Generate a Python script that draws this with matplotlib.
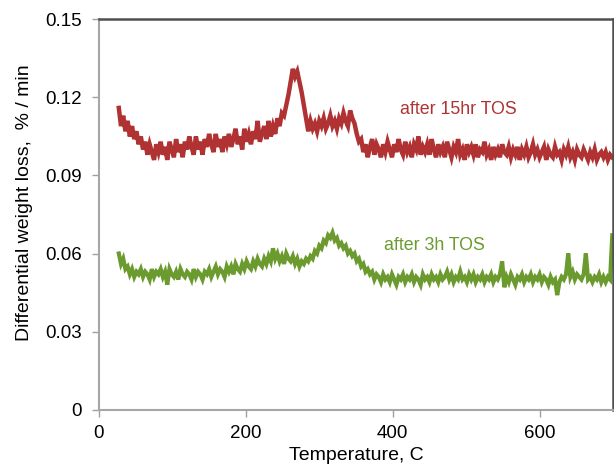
import matplotlib
matplotlib.use("Agg")
import matplotlib.pyplot as plt
import numpy as np

plt.rcParams['font.family'] = ['Liberation Sans', 'DejaVu Sans']

# temperature grid of the TGA trace, C (every 3 degrees from 27 to 699)
temp = np.arange(27, 700, 3)

# differential weight loss, % / min
after_15hr = [
    0.116, 0.109, 0.113, 0.107, 0.111, 0.105, 0.109, 0.104, 0.107, 0.102,
    0.105, 0.100, 0.103, 0.098, 0.102, 0.099, 0.096, 0.102, 0.099, 0.103,
    0.098, 0.101, 0.096, 0.103, 0.100, 0.097, 0.104, 0.099, 0.102, 0.097,
    0.103, 0.100, 0.105, 0.101, 0.098, 0.105, 0.100, 0.103, 0.098, 0.104,
    0.101, 0.106, 0.102, 0.099, 0.106, 0.101, 0.104, 0.099, 0.105, 0.102,
    0.106, 0.101, 0.104, 0.108, 0.102, 0.105, 0.100, 0.108, 0.103, 0.106,
    0.102, 0.107, 0.104, 0.111, 0.103, 0.106, 0.109, 0.104, 0.111, 0.105,
    0.109, 0.106, 0.112, 0.109, 0.114, 0.113, 0.117, 0.121, 0.126, 0.131,
    0.128, 0.130, 0.126, 0.122, 0.117, 0.112, 0.107, 0.111, 0.108, 0.110,
    0.107, 0.111, 0.109, 0.112, 0.108, 0.110, 0.113, 0.109, 0.111, 0.108,
    0.112, 0.110, 0.114, 0.111, 0.109, 0.115, 0.112, 0.110, 0.106, 0.103,
    0.104, 0.099, 0.102, 0.097, 0.101, 0.104, 0.098, 0.102, 0.100, 0.097,
    0.102, 0.099, 0.103, 0.100, 0.097, 0.102, 0.099, 0.104, 0.100, 0.098,
    0.103, 0.099, 0.101, 0.097, 0.102, 0.100, 0.105, 0.098, 0.101, 0.099,
    0.102, 0.098, 0.104, 0.100, 0.097, 0.102, 0.099, 0.101, 0.097, 0.103,
    0.100, 0.097, 0.101, 0.099, 0.104, 0.098, 0.100, 0.096, 0.102, 0.099,
    0.101, 0.098, 0.102, 0.097, 0.100, 0.099, 0.103, 0.098, 0.100, 0.096,
    0.101, 0.098, 0.100, 0.097, 0.102, 0.099, 0.098, 0.101, 0.097, 0.100,
    0.098, 0.101, 0.096, 0.100, 0.098, 0.101, 0.097, 0.099, 0.102, 0.098,
    0.100, 0.097, 0.099, 0.101, 0.096, 0.100, 0.098, 0.097, 0.101, 0.098,
    0.099, 0.096, 0.100, 0.098, 0.101, 0.097, 0.099, 0.096, 0.100, 0.098,
    0.097, 0.100, 0.098, 0.096, 0.099, 0.097, 0.100, 0.096, 0.098, 0.099,
    0.097, 0.099, 0.096, 0.098, 0.097,
]
after_3h = [
    0.060, 0.056, 0.058, 0.054, 0.055, 0.052, 0.054, 0.051, 0.053, 0.052,
    0.054, 0.051, 0.053, 0.052, 0.050, 0.054, 0.051, 0.053, 0.052, 0.054,
    0.051, 0.053, 0.048, 0.054, 0.052, 0.051, 0.053, 0.050, 0.054, 0.052,
    0.051, 0.053, 0.052, 0.050, 0.054, 0.051, 0.053, 0.052, 0.050, 0.053,
    0.052, 0.054, 0.051, 0.053, 0.055, 0.052, 0.054, 0.053, 0.051, 0.055,
    0.053, 0.055, 0.052, 0.056, 0.054, 0.053, 0.056, 0.054, 0.057, 0.055,
    0.054, 0.057, 0.055, 0.058, 0.056, 0.055, 0.058, 0.056, 0.059, 0.057,
    0.062, 0.058, 0.060, 0.057, 0.059, 0.056, 0.060, 0.058, 0.057, 0.059,
    0.056, 0.058, 0.055, 0.057, 0.056, 0.058, 0.057, 0.059, 0.058, 0.061,
    0.060, 0.063, 0.062, 0.065, 0.064, 0.067, 0.066, 0.068, 0.065, 0.066,
    0.063, 0.064, 0.062, 0.063, 0.060, 0.061, 0.059, 0.060, 0.057, 0.058,
    0.055, 0.056, 0.053, 0.054, 0.052, 0.053, 0.050, 0.052, 0.051, 0.049,
    0.052, 0.050, 0.051, 0.049, 0.052, 0.050, 0.048, 0.051, 0.050, 0.052,
    0.049, 0.051, 0.050, 0.052, 0.049, 0.051, 0.050, 0.048, 0.052, 0.050,
    0.051, 0.049, 0.052, 0.050, 0.051, 0.049, 0.052, 0.050, 0.051, 0.053,
    0.050, 0.052, 0.049, 0.051, 0.050, 0.053, 0.050, 0.051, 0.049, 0.052,
    0.050, 0.052, 0.049, 0.051, 0.050, 0.052, 0.049, 0.051, 0.050, 0.052,
    0.049, 0.051, 0.050, 0.052, 0.057, 0.047, 0.051, 0.049, 0.052, 0.050,
    0.048, 0.051, 0.050, 0.052, 0.049, 0.051, 0.050, 0.052, 0.049, 0.051,
    0.050, 0.052, 0.049, 0.051, 0.050, 0.048, 0.051, 0.049, 0.050, 0.044,
    0.049, 0.051, 0.050, 0.052, 0.060, 0.051, 0.053, 0.050, 0.052, 0.051,
    0.050, 0.052, 0.060, 0.050, 0.051, 0.049, 0.051, 0.050, 0.052, 0.049,
    0.051, 0.049, 0.051, 0.050, 0.067,
]

xticks = [0, 200, 400, 600]
yticks = [0, 0.03, 0.06, 0.09, 0.12, 0.15]
ytick_labels = ['0', '0.03', '0.06', '0.09', '0.12', '0.15']

red = '#B03232'
green = '#6B9A2E'

fig = plt.figure(figsize=(6.14, 4.66), dpi=100)
ax = fig.add_axes([0.1612, 0.1212, 0.8372, 0.837])

ax.plot(temp, after_15hr, color=red, lw=3.2, solid_joinstyle='miter')
ax.plot(temp, after_3h, color=green, lw=3.0, solid_joinstyle='miter')

ax.text(489, 0.1152, 'after 15hr TOS', color=red, fontsize=12.8,
        ha='center', va='center')
ax.text(457, 0.0629, 'after 3h TOS', color=green, fontsize=12.8,
        ha='center', va='center')

ax.set_xlim(0, 700)
ax.set_ylim(0, 0.15)
ax.set_xticks(xticks)
ax.set_yticks(yticks)
ax.set_yticklabels(ytick_labels)
ax.tick_params(direction='out', length=5, width=1, color='#A0A0A0',
               labelsize=13.5)
ax.tick_params(axis='y', pad=7.5)
ax.tick_params(axis='x', pad=6)

for side in ['left', 'bottom']:
    ax.spines[side].set_color('#A6A6A6')
    ax.spines[side].set_linewidth(1.5)
for side in ['top', 'right']:
    ax.spines[side].set_color('#505050')
    ax.spines[side].set_linewidth(1.8)

ax.set_xlabel('Temperature, C', fontsize=14, labelpad=3.5)
ax.set_ylabel('Differential weight loss,  % / min', fontsize=14)
ax.yaxis.set_label_coords(-0.128, 0.53)

fig.savefig('out.png', dpi=100)
